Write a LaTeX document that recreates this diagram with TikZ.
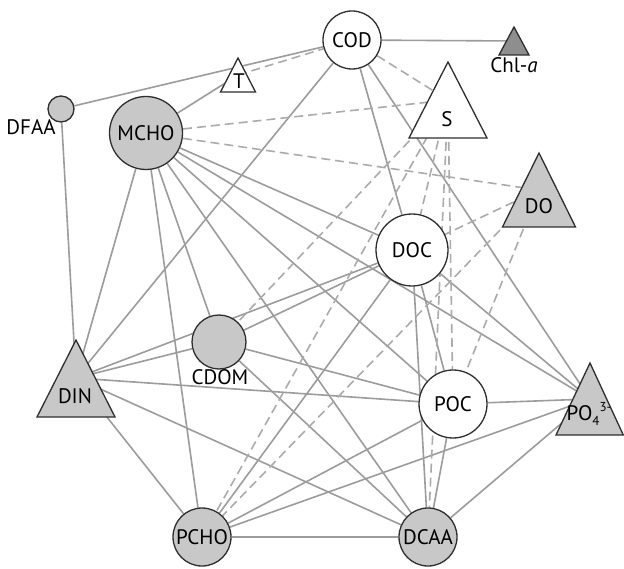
\documentclass[tikz,border=0pt]{standalone}
\usepackage{fontspec}
\setmainfont{PT Sans}
\definecolor{edgec}{HTML}{9C9C9C}
\definecolor{dashc}{HTML}{ABABAB}
\definecolor{nodeg}{HTML}{C8C8C8}
\definecolor{chlg}{HTML}{8E8E8E}
\definecolor{bord}{HTML}{2E2E2E}
\pgfdeclarelayer{edges}
\pgfsetlayers{edges,main}
\newcommand{\smallidx}{\fontsize{13}{13}\selectfont}
\begin{document}
\begin{tikzpicture}[x=1pt,y=-1pt,
  cnode/.style={circle,draw=bord,line width=1.3pt,inner sep=0pt,font=\fontsize{21}{21}\selectfont},
  gnode/.style={cnode,fill=nodeg},
  wnode/.style={cnode,fill=white},
  tri/.style={draw=bord,line width=1.3pt,line join=miter},
  lab/.style={inner sep=0pt,font=\fontsize{21}{21}\selectfont},
  sedge/.style={draw=edgec,line width=1.6pt},
  dedge/.style={draw=dashc,line width=1.6pt,dash pattern=on 9pt off 5pt}]
\useasboundingbox (0,0) rectangle (624,569);

% circle nodes
\node[wnode,minimum size=58pt] (COD) at (352,40) {COD};
\node[gnode,minimum size=26pt] (DFAA) at (61,109) {};
\node[gnode,minimum size=73pt] (MCHO) at (146,133) {MCHO};
\node[wnode,minimum size=72pt] (DOC) at (412,250) {DOC};
\node[gnode,minimum size=54pt] (CDOM) at (219,342) {};
\node[wnode,minimum size=68pt] (POC) at (453,404) {POC};
\node[gnode,minimum size=58pt] (PCHO) at (202,537) {PCHO};
\node[gnode,minimum size=58pt] (DCAA) at (428,537) {DCAA};

% triangle centres
\coordinate (Chl) at (514,41);
\coordinate (S) at (448,100);
\coordinate (DO) at (539,190);
\coordinate (T) at (238,75);
\coordinate (DIN) at (76,378);
\coordinate (PO4) at (590,399);

\begin{pgfonlayer}{edges}
\fill[white] (0,0) rectangle (624,569);
% solid connectors
\draw[sedge] (DFAA) -- (COD);
\draw[sedge] (DFAA) -- (DIN);
\draw[sedge] (COD) -- (Chl);
\draw[sedge] (COD) -- (DIN);
\draw[sedge] (COD) -- (DOC);
\draw[sedge] (COD) -- (PO4);
\draw[sedge] (MCHO) -- (T);
\draw[sedge] (MCHO) -- (DIN);
\draw[sedge] (MCHO) -- (PCHO);
\draw[sedge] (MCHO) -- (CDOM);
\draw[sedge] (MCHO) -- (DCAA);
\draw[sedge] (MCHO) -- (POC);
\draw[sedge] (MCHO) -- (PO4);
\draw[sedge] (MCHO) -- (DOC);
\draw[sedge] (DIN) -- (DOC);
\draw[sedge] (DIN) -- (CDOM);
\draw[sedge] (DIN) -- (POC);
\draw[sedge] (DIN) -- (DCAA);
\draw[sedge] (DIN) -- (PCHO);
\draw[sedge] (CDOM) -- (DOC);
\draw[sedge] (CDOM) -- (POC);
\draw[sedge] (CDOM) -- (DCAA);
\draw[sedge] (DOC) -- (PCHO);
\draw[sedge] (DOC) -- (DCAA);
\draw[sedge] (DOC) -- (POC);
\draw[sedge] (DOC) -- (PO4);
\draw[sedge] (PCHO) -- (POC);
\draw[sedge] (PCHO) -- (PO4);
\draw[sedge] (PCHO) -- (DCAA);
\draw[sedge] (POC) -- (DCAA);
\draw[sedge] (POC) -- (PO4);
\draw[sedge] (DCAA) -- (PO4);
% dashed connectors
\draw[dedge] (T) -- (COD);
\draw[dedge] (COD) -- (S);
\draw[dedge] (MCHO) -- (S);
\draw[dedge] (MCHO) -- (DO);
\draw[dedge] (S) -- (CDOM);
\draw[dedge] (S) -- (DOC);
\draw[dedge] (S) -- (POC);
\draw[dedge] (S) -- (DCAA);
\draw[dedge] (S) -- (PCHO);
\draw[dedge] (DO) -- (DOC);
\draw[dedge] (DO) -- (POC);
\draw[dedge] (DO) -- (PCHO);
\end{pgfonlayer}

% triangles
\filldraw[tri,fill=chlg] (514,27) -- (529,55) -- (499,55) -- cycle;
\filldraw[tri,fill=white] (448,62) -- (487,138) -- (409,138) -- cycle;
\filldraw[tri,fill=nodeg] (539,153) -- (575.5,227) -- (502.5,227) -- cycle;
\filldraw[tri,fill=white] (238,58) -- (255.5,92) -- (220.5,92) -- cycle;
\filldraw[tri,fill=nodeg] (76,340) -- (115,417) -- (37,417) -- cycle;
\filldraw[tri,fill=nodeg] (590,363) -- (623.3,435) -- (556,435) -- cycle;

% labels
\node[lab] (DFAAlab) at (31,127) {DFAA};
\node[lab] (CDOMlab) at (220,377) {CDOM};
\node[lab] (Chllab) at (514,65) {Chl-\textit{a}};
\node[lab] (Slab) at (447,119) {S};
\node[lab] (DOlab) at (539,206) {DO};
\node[lab] (Tlab) at (239,81) {T};
\node[lab] (DINlab) at (75,396) {DIN};
\node[lab] (PO4lab) at (589,414) {PO\raisebox{-0.45ex}{\smallidx 4}\raisebox{0.9ex}{\smallidx 3-}};
\end{tikzpicture}
\end{document}
